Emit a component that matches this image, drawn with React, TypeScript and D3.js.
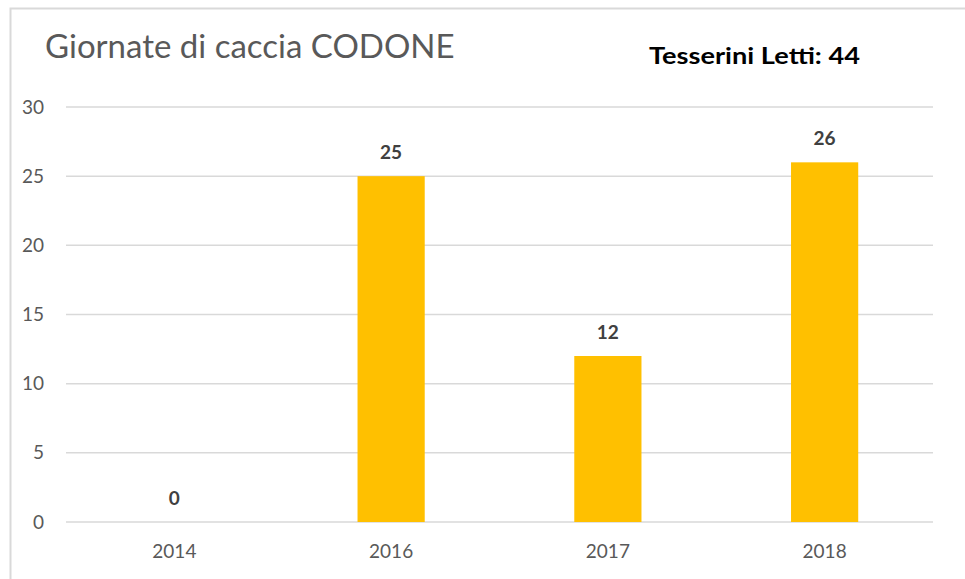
import React, { useEffect, useRef } from 'react';
import * as d3 from 'd3';

const years = ['2014', '2016', '2017', '2018'];
const giornate = [0, 25, 12, 26];
const yTicks = [0, 5, 10, 15, 20, 25, 30];
const title = 'Giornate di caccia CODONE';
const subtitle = 'Tesserini Letti: 44';

const W = 965;
const H = 579;
const FONT = 'Lato, "Open Sans", sans-serif';

export default function App() {
  const ref = useRef<SVGSVGElement>(null);

  useEffect(() => {
    const svg = d3.select(ref.current);
    svg.selectAll('*').remove();

    // frame of the chart area (cropped at the right and bottom)
    svg.append('rect')
      .attr('x', 10.5).attr('y', 8.5)
      .attr('width', W).attr('height', H)
      .attr('fill', '#fff')
      .attr('stroke', '#d9d9d9')
      .attr('stroke-width', 2);

    const left = 66, right = 933, top = 107, bottom = 522;

    const x = d3.scaleBand<string>()
      .domain(years)
      .range([left, right])
      .paddingInner(0.69)
      .paddingOuter(0.345);

    const y = d3.scaleLinear().domain([0, 30]).range([bottom, top]);

    // grid
    svg.append('g')
      .selectAll('line')
      .data(yTicks)
      .enter()
      .append('line')
      .attr('x1', left).attr('x2', right)
      .attr('y1', (d) => y(d)).attr('y2', (d) => y(d))
      .attr('stroke', '#d9d9d9')
      .attr('stroke-width', 1.5);

    // y tick labels
    svg.append('g')
      .selectAll('text')
      .data(yTicks)
      .enter()
      .append('text')
      .attr('x', 44)
      .attr('y', (d) => y(d))
      .attr('dy', '0.35em')
      .attr('text-anchor', 'end')
      .style('font-family', FONT)
      .style('font-size', '19px')
      .style('fill', '#595959')
      .text((d) => d);

    // bars
    svg.append('g')
      .selectAll('rect')
      .data(giornate)
      .enter()
      .append('rect')
      .attr('x', (d, i) => x(years[i]) as number)
      .attr('width', x.bandwidth())
      .attr('y', (d) => y(d))
      .attr('height', (d) => bottom - y(d))
      .attr('fill', '#ffc000');

    // value labels
    svg.append('g')
      .selectAll('text')
      .data(giornate)
      .enter()
      .append('text')
      .attr('x', (d, i) => (x(years[i]) as number) + x.bandwidth() / 2)
      .attr('y', (d) => y(d) - 17)
      .attr('text-anchor', 'middle')
      .style('font-family', FONT)
      .style('font-size', '19px')
      .style('font-weight', 'bold')
      .style('fill', '#404040')
      .text((d) => d);

    // x labels
    svg.append('g')
      .selectAll('text')
      .data(years)
      .enter()
      .append('text')
      .attr('x', (d) => (x(d) as number) + x.bandwidth() / 2)
      .attr('y', 558)
      .attr('text-anchor', 'middle')
      .style('font-family', FONT)
      .style('font-size', '19px')
      .style('fill', '#595959')
      .text((d) => d);

    svg.append('text')
      .attr('x', 45)
      .attr('y', 58)
      .style('font-family', FONT)
      .style('font-size', '33px')
      .style('fill', '#595959')
      .text(title);

    svg.append('text')
      .attr('x', 649)
      .attr('y', 64)
      .attr('textLength', 211)
      .attr('lengthAdjust', 'spacingAndGlyphs')
      .style('font-family', FONT)
      .style('font-size', '22px')
      .style('font-weight', 'bold')
      .style('fill', '#000')
      .text(subtitle);
  }, []);

  return (
    <svg
      ref={ref}
      width={W}
      height={H}
      style={{ position: 'absolute', left: 0, top: 0, background: '#fff' }}
    />
  );
}
